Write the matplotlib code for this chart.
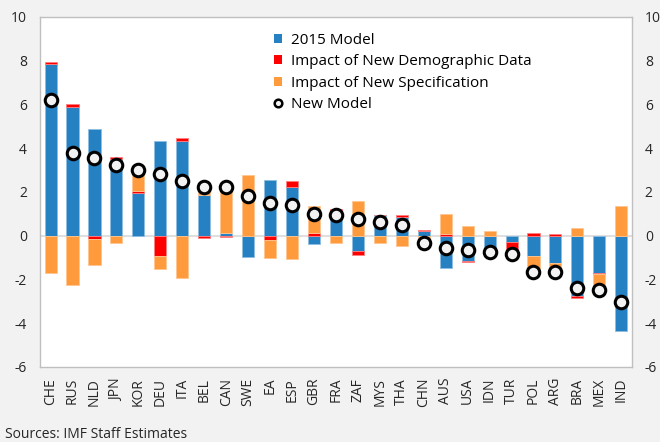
import numpy as np
import matplotlib
matplotlib.use("Agg")
import matplotlib.pyplot as plt
from matplotlib.lines import Line2D
from matplotlib.patches import Patch

plt.rcParams['font.family'] = ['Open Sans', 'DejaVu Sans']
plt.rcParams['axes.unicode_minus'] = False

# Data
countries = ["CHE", "RUS", "NLD", "JPN", "KOR", "DEU", "ITA", "BEL", "CAN", "SWE",
             "EA", "ESP", "GBR", "FRA", "ZAF", "MYS", "THA", "CHN", "AUS", "USA",
             "IDN", "TUR", "POL", "ARG", "BRA", "MEX", "IND"]
model_2015 = [7.84, 5.88, 4.89, 3.48, 1.96, 4.33, 4.33, 1.85, 0.12, -0.97,
              2.53, 2.24, -0.37, 1.12, -0.70, 0.94, 0.86, 0.20, -1.50, -1.14,
              -0.92, -0.31, -0.92, -1.24, -2.77, -1.72, -4.37]
new_demog = [0.08, 0.15, -0.15, 0.09, 0.10, -0.95, 0.11, -0.09, -0.05, 0.0,
             -0.19, 0.24, 0.10, 0.08, -0.20, 0.0, 0.08, 0.05, 0.05, -0.06,
             0.0, -0.33, 0.12, 0.07, -0.07, -0.05, 0.0]
new_spec = [-1.73, -2.27, -1.20, -0.36, 0.94, -0.57, -1.94, 0.38, 2.08, 2.76,
            -0.83, -1.08, 1.25, -0.32, 1.58, -0.36, -0.47, -0.50, 0.95, 0.44,
            0.19, -0.17, -0.61, -0.32, 0.34, -0.67, 1.33]
new_model = [6.19, 3.77, 3.54, 3.24, 3.00, 2.82, 2.51, 2.24, 2.24, 1.80,
             1.51, 1.41, 0.97, 0.96, 0.74, 0.60, 0.47, -0.35, -0.57, -0.67,
             -0.74, -0.82, -1.65, -1.65, -2.41, -2.47, -3.02]
yticks = [-6, -4, -2, 0, 2, 4, 6, 8, 10]

series = [
    ("2015 Model", model_2015, "#2681c2", "#8dbde2"),
    ("Impact of New Demographic Data", new_demog, "#ff0000", "#ff8080"),
    ("Impact of New Specification", new_spec, "#ff9a3d", "#ffc690"),
]

fig = plt.figure(figsize=(6.6, 4.42), dpi=100, facecolor="#f2f2f2")
ax = fig.add_axes([0.06, 0.17, 0.898, 0.792])
ax.set_facecolor("white")

x = np.arange(len(countries))
pos_base = np.zeros(len(countries))
neg_base = np.zeros(len(countries))

ax.axhline(0, color="#d9d9d9", lw=1.2, zorder=1)

# Excel-style stacking: positives go up from 0, negatives go down from 0
for name, vals, color, edge in series:
    v = np.array(vals)
    bottom = np.where(v >= 0, pos_base, neg_base)
    ax.bar(x, v, width=0.55, bottom=bottom, color=color, edgecolor=edge,
           linewidth=0.6, zorder=2)
    pos_base = pos_base + np.where(v > 0, v, 0)
    neg_base = neg_base + np.where(v < 0, v, 0)

ax.plot(x, new_model, linestyle="none", marker="o", markersize=9,
        markerfacecolor="#f2f2f2", markeredgecolor="black",
        markeredgewidth=2.2, zorder=3)

ax.set_xlim(-0.5, len(countries) - 0.5)
ax.set_ylim(-6, 10)
ax.set_yticks(yticks)
ax.set_yticklabels([str(t) for t in yticks])
ax.set_xticks(x)
ax.set_xticklabels(countries, rotation=90)
ax.tick_params(axis="both", length=0, labelsize=10, colors="#262626")
ax.tick_params(axis="y", labelleft=True, labelright=True, pad=9)
ax.tick_params(axis="x", pad=8)

for s in ax.spines.values():
    s.set_color("#bfbfbf")
    s.set_linewidth(1.0)

handles = [Patch(facecolor=c, edgecolor="none") for _, _, c, _ in series]
handles.append(Line2D([], [], linestyle="none", marker="o", markersize=5.5,
                      markerfacecolor="#f2f2f2", markeredgecolor="black",
                      markeredgewidth=1.8))
labels = [s[0] for s in series] + ["New Model"]
ax.legend(handles, labels, loc="upper left", bbox_to_anchor=(0.386, 0.972),
          frameon=False, fontsize=11, handlelength=0.5, handleheight=0.55,
          handletextpad=0.55, labelspacing=0.42, borderaxespad=0)

fig.text(0.008, 0.0, "Sources: IMF Staff Estimates", fontsize=10,
         color="#262626", ha="left", va="bottom")

fig.savefig("out.png", dpi=100, facecolor=fig.get_facecolor())
